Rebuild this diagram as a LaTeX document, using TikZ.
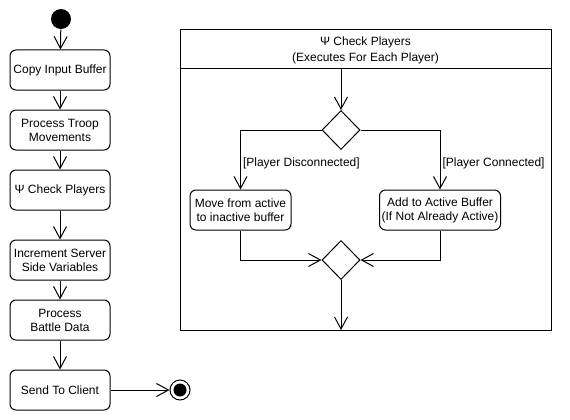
\documentclass[tikz,border=0pt]{standalone}
\usepackage{fontspec}
\setmainfont{Liberation Sans}
\usetikzlibrary{arrows.meta,shapes.geometric}
\tikzset{
  act/.style={draw, rounded corners=6pt, minimum width=100pt, minimum height=40pt, inner sep=1pt, align=center, font=\fontsize{12}{14}\selectfont},
  dec/.style={draw, diamond, minimum width=38pt, minimum height=39pt, inner sep=0pt},
  flow/.style={-{Straight Barb[length=12pt,width=13pt]}},
  guard/.style={anchor=west, inner sep=2pt, font=\fontsize{12}{14}\selectfont},
}
\begin{document}
\begin{tikzpicture}[x=1pt, y=-1pt, line width=1pt]
\useasboundingbox (0,0) rectangle (570,420);
\node[circle, fill, minimum size=20pt, inner sep=0pt] (start) at (61,19){};
\node[act] (copy) at (60,70){Copy Input Buffer};
\node[act] (troop) at (60,130){Process Troop\\Movements};
\node[act] (check) at (60,190){Ψ Check Players};
\node[act] (incr) at (60,260){Increment Server\\Side Variables};
\node[act] (battle) at (60,320){Process\\Battle Data};
\node[act] (send) at (60,390){Send To Client};
\node[circle, draw, minimum size=20pt, inner sep=0pt,
  path picture={\fill (path picture bounding box.center) circle (6.5pt);}] (finish) at (180,390){};
\draw[flow](start) -- (copy);
\draw[flow](copy) -- (troop);
\draw[flow](troop) -- (check);
\draw[flow](check) -- (incr);
\draw[flow](incr) -- (battle);
\draw[flow](battle) -- (send);
\draw[flow](send) -- (finish);

% frame of the check players activity
\draw (180,30) rectangle (551,330);
\draw (180,69) -- (551,69);
\node[align=center, font=\fontsize{12}{16}\selectfont] (hdr) at (365.5,50){Ψ Check Players\\(Executes For Each Player)};
\coordinate (fentry) at (341,69);
\coordinate (fexit) at (341,330);
\node[dec] (split) at (341,130){};
\node[act, minimum width=101pt] (inactive) at (240.5,210){Move from active\\to inactive buffer};
\node[act, minimum width=121pt] (active) at (440,210){Add to Active Buffer\\(If Not Already Active)};
\node[dec] (merge) at (341,260){};
\draw[flow](fentry) -- (split);
\draw[flow](split) -| (inactive) node[guard, pos=0.78]{[Player Disconnected]};
\draw[flow](split) -| (active) node[guard, pos=0.78]{[Player Connected]};
\draw[flow](inactive) |- (merge);
\draw[flow](active) |- (merge);
\draw[flow](merge) -- (fexit);

\end{tikzpicture}
\end{document}
